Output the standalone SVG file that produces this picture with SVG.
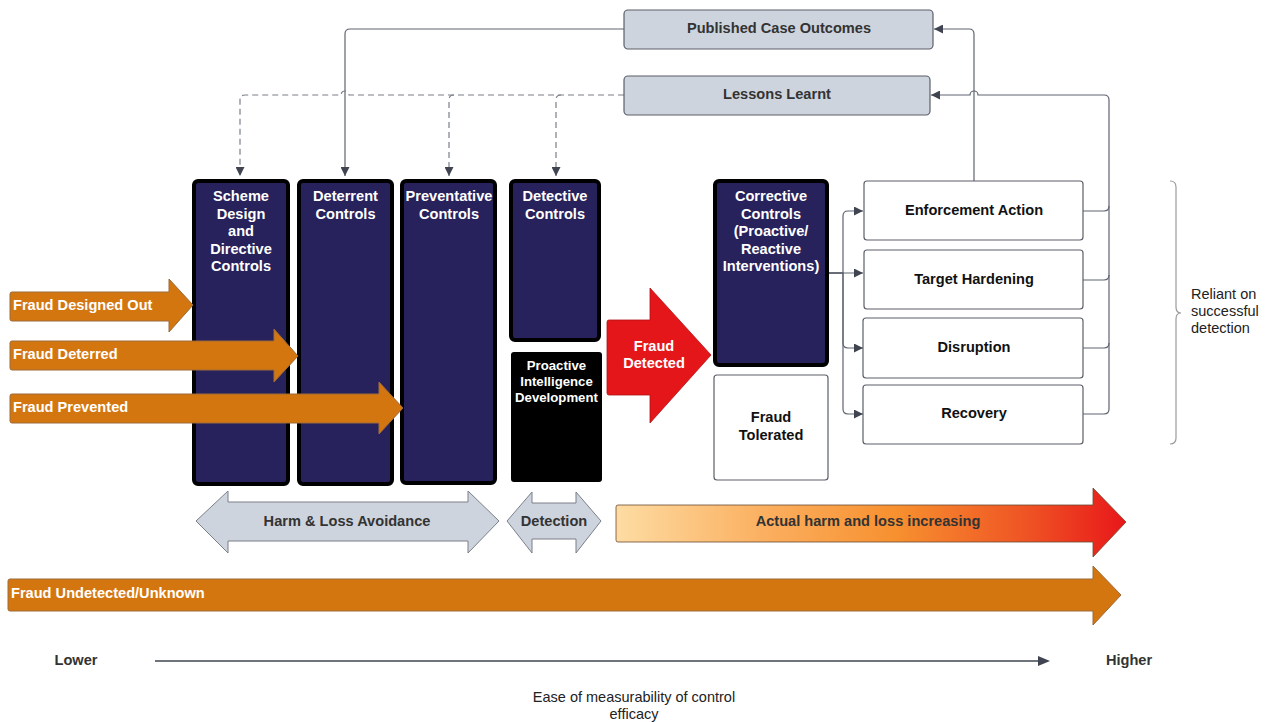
<svg xmlns="http://www.w3.org/2000/svg" width="1269" height="722" viewBox="0 0 1269 722">
  <defs>
    <marker id="ah" viewBox="0 0 10 10" refX="10" refY="5" markerWidth="10" markerHeight="9" markerUnits="userSpaceOnUse" orient="auto">
      <path d="M0,0 L10,5 L0,10 z" fill="#3f4450"/>
    </marker>
    <linearGradient id="harm" gradientUnits="userSpaceOnUse" x1="616" y1="0" x2="1126" y2="0">
      <stop offset="0" stop-color="#fddca3"/>
      <stop offset="0.3" stop-color="#fbae5e"/>
      <stop offset="0.55" stop-color="#f7902f"/>
      <stop offset="0.8" stop-color="#ef5524"/>
      <stop offset="1" stop-color="#e8171a"/>
    </linearGradient>
    <style>
      text { font-family: "Liberation Sans", Arial, sans-serif; }
      .col { fill: #27225c; stroke: #000; stroke-width: 4; }
      .blk { fill: #000; stroke: #000; stroke-width: 2; }
      .wt { fill: #fff; font-weight: bold; font-size: 14.6px; text-anchor: middle; }
      .wts { fill: #fff; font-weight: bold; font-size: 13.2px; text-anchor: middle; }
      .bk { fill: #111; font-weight: bold; font-size: 14.6px; text-anchor: middle; }
      .gy { fill: #333; font-weight: bold; font-size: 14.6px; text-anchor: middle; }
      .top { fill: #ced4dd; stroke: #5a5f68; stroke-width: 1.2; }
      .box { fill: #fff; stroke: #5a5f68; stroke-width: 1.2; }
      .orange { fill: #d47610; stroke: #9c6a3a; stroke-width: 1; }
      .otxt { fill: #fff; font-weight: bold; font-size: 14.6px; }
      .grey { fill: #ced4dd; stroke: #7a7f88; stroke-width: 1; }
      .ln { fill: none; stroke: #5f6470; stroke-width: 1.2; }
      .dash { fill: none; stroke: #7a7f88; stroke-width: 1.2; stroke-dasharray: 6 4; }
      .reg { fill: #222; font-size: 14.5px; }
    </style>
  </defs>

  <!-- connectors -->
  <g id="connectors">
    <!-- published outcomes feed deterrent controls -->
    <path class="ln" d="M624 29 H350 Q345 29 345 34 V176" marker-end="url(#ah)"/>
    <!-- lessons learnt feed scheme, preventative and detective columns -->
    <path class="dash" d="M624 95 H349 A4 4 0 0 0 341 95 H245 Q240 95 240 100 V176" marker-end="url(#ah)"/>
    <path class="dash" d="M454 95 Q449 95 449 100 V176" marker-end="url(#ah)"/>
    <path class="dash" d="M561 95 Q556 95 556 100 V176" marker-end="url(#ah)"/>
    <!-- enforcement action back to published outcomes -->
    <path class="ln" d="M974 181 V34 Q974 29 969 29 H934" marker-end="url(#ah)"/>
    <!-- all outcomes back to lessons learnt -->
    <path class="ln" d="M1083 211 H1104 Q1109 211 1109 206"/>
    <path class="ln" d="M1083 280 H1104 Q1109 280 1109 275"/>
    <path class="ln" d="M1083 348 H1104 Q1109 348 1109 343"/>
    <path class="ln" d="M1083 414 H1104 Q1109 414 1109 409 V100 Q1109 95 1104 95 H978 A4 4 0 0 0 970 95 H931" marker-end="url(#ah)"/>
    <!-- corrective controls to interventions -->
    <path class="ln" d="M828 273 H843 V216 Q843 211 848 211 H863" marker-end="url(#ah)"/>
    <path class="ln" d="M828 273 H863" marker-end="url(#ah)"/>
    <path class="ln" d="M828 273 H843 V343 Q843 348 848 348 H863" marker-end="url(#ah)"/>
    <path class="ln" d="M828 273 H843 V409 Q843 414 848 414 H863" marker-end="url(#ah)"/>
    <!-- measurability axis -->
    <path d="M155 661 H1040" stroke="#3f4450" stroke-width="1.6" fill="none"/>
    <path d="M1038 656 L1050 661 L1038 666 z" fill="#3f4450"/>
  </g>

  <!-- feedback boxes -->
  <g id="published">
    <rect class="top" x="624" y="10" width="309" height="39" rx="4"/>
    <text class="gy" x="779" y="33">Published Case Outcomes</text>
  </g>
  <g id="lessons">
    <rect class="top" x="624" y="76" width="306" height="39" rx="4"/>
    <text class="gy" x="777" y="99">Lessons Learnt</text>
  </g>

  <!-- control columns -->
  <g id="scheme">
    <rect class="col" x="194" y="181" width="94" height="303" rx="4"/>
    <text class="wt" x="241" y="201">Scheme</text>
    <text class="wt" x="241" y="218.5">Design</text>
    <text class="wt" x="241" y="236">and</text>
    <text class="wt" x="241" y="253.5">Directive</text>
    <text class="wt" x="241" y="271">Controls</text>
  </g>
  <g id="deterrent">
    <rect class="col" x="299" y="181" width="93" height="303" rx="4"/>
    <text class="wt" x="345.5" y="201">Deterrent</text>
    <text class="wt" x="345.5" y="218.5">Controls</text>
  </g>
  <g id="preventative">
    <rect class="col" x="402" y="181" width="93" height="302" rx="4"/>
    <text class="wt" x="449" y="201">Preventative</text>
    <text class="wt" x="449" y="218.5">Controls</text>
  </g>
  <g id="detective">
    <rect class="col" x="511" y="181" width="88" height="159" rx="4"/>
    <text class="wt" x="555" y="201">Detective</text>
    <text class="wt" x="555" y="218.5">Controls</text>
  </g>
  <g id="proactive">
    <rect class="blk" x="512" y="353" width="89" height="128" rx="2"/>
    <text class="wts" x="556.5" y="370">Proactive</text>
    <text class="wts" x="556.5" y="386">Intelligence</text>
    <text class="wts" x="556.5" y="402">Development</text>
  </g>
  <g id="corrective">
    <rect class="col" x="715" y="181" width="112" height="184" rx="4"/>
    <text class="wt" x="771" y="201">Corrective</text>
    <text class="wt" x="771" y="218.5">Controls</text>
    <text class="wt" x="771" y="236">(Proactive/</text>
    <text class="wt" x="771" y="253.5">Reactive</text>
    <text class="wt" x="771" y="271">Interventions)</text>
  </g>
  <g id="tolerated">
    <rect class="box" x="714" y="375" width="114" height="105" rx="3"/>
    <text class="bk" x="771" y="422">Fraud</text>
    <text class="bk" x="771" y="440">Tolerated</text>
  </g>

  <!-- interventions -->
  <g id="enforcement">
    <rect class="box" x="864" y="181" width="219" height="59" rx="3"/>
    <text class="bk" x="974" y="215">Enforcement Action</text>
  </g>
  <g id="hardening">
    <rect class="box" x="864" y="250" width="219" height="59" rx="3"/>
    <text class="bk" x="974" y="284">Target Hardening</text>
  </g>
  <g id="disruption">
    <rect class="box" x="863" y="318" width="220" height="60" rx="3"/>
    <text class="bk" x="974" y="352">Disruption</text>
  </g>
  <g id="recovery">
    <rect class="box" x="863" y="385" width="220" height="59" rx="3"/>
    <text class="bk" x="974" y="418">Recovery</text>
  </g>

  <!-- reliance brace -->
  <g id="reliant">
    <path d="M1170 181 Q1176 181 1176 187 V307 Q1176 313 1181 313 Q1176 313 1176 319 V438 Q1176 444 1170 444" fill="none" stroke="#9a9a9a" stroke-width="1.2"/>
    <text class="reg" x="1191" y="299">Reliant on</text>
    <text class="reg" x="1191" y="316">successful</text>
    <text class="reg" x="1191" y="333">detection</text>
  </g>

  <!-- fraud outcome arrows -->
  <g id="designed-out">
    <path class="orange" d="M12 292 H169 V279 L193 305 L169 332 V321 H12 Q10 321 10 319 V294 Q10 292 12 292 z"/>
    <text class="otxt" x="13" y="310">Fraud Designed Out</text>
  </g>
  <g id="deterred">
    <path class="orange" d="M12 341 H274 V329 L298 356 L274 382 V370 H12 Q10 370 10 368 V343 Q10 341 12 341 z"/>
    <text class="otxt" x="13" y="359">Fraud Deterred</text>
  </g>
  <g id="prevented">
    <path class="orange" d="M12 394 H379 V382 L403 408 L379 434 V423 H12 Q10 423 10 421 V396 Q10 394 12 394 z"/>
    <text class="otxt" x="13" y="412">Fraud Prevented</text>
  </g>
  <g id="detected">
    <path d="M609 320 H650 V288 L711 355 L650 423 V395 H609 Q607 395 607 393 V322 Q607 320 609 320 z" fill="#e5161a" stroke="#b01014" stroke-width="0.8"/>
    <text class="wt" x="654" y="351">Fraud</text>
    <text class="wt" x="654" y="368">Detected</text>
  </g>
  <g id="undetected">
    <path class="orange" d="M10 579 H1093 V566 L1121 595 L1093 625 V611 H10 Q8 611 8 609 V581 Q8 579 10 579 z"/>
    <text class="otxt" x="11" y="598">Fraud Undetected/Unknown</text>
  </g>

  <!-- phase bands -->
  <g id="harm-avoidance">
    <path class="grey" d="M196 521 L228 491 V502 H468 V491 L499 521 L468 553 V541 H228 V553 z"/>
    <text class="gy" x="347" y="526">Harm &amp; Loss Avoidance</text>
  </g>
  <g id="detection">
    <path class="grey" d="M507 521 L532 492 V503 H576 V492 L601 521 L576 553 V539 H532 V553 z"/>
    <text class="gy" x="554" y="526">Detection</text>
  </g>
  <g id="harm-increasing">
    <path d="M618 505 H1093 V488 L1126 522 L1093 557 V542 H618 Q616 542 616 540 V507 Q616 505 618 505 z" fill="url(#harm)" stroke="#6a4a30" stroke-width="0.8"/>
    <text class="gy" x="868" y="526">Actual harm and loss increasing</text>
  </g>

  <!-- axis labels -->
  <g id="axis-labels">
    <text class="gy" x="76" y="665">Lower</text>
    <text class="gy" x="1129" y="665">Higher</text>
    <text x="634" y="702" font-size="14.5" fill="#222" text-anchor="middle">Ease of measurability of control</text>
    <text x="634" y="719" font-size="14.5" fill="#222" text-anchor="middle">efficacy</text>
  </g>
</svg>
